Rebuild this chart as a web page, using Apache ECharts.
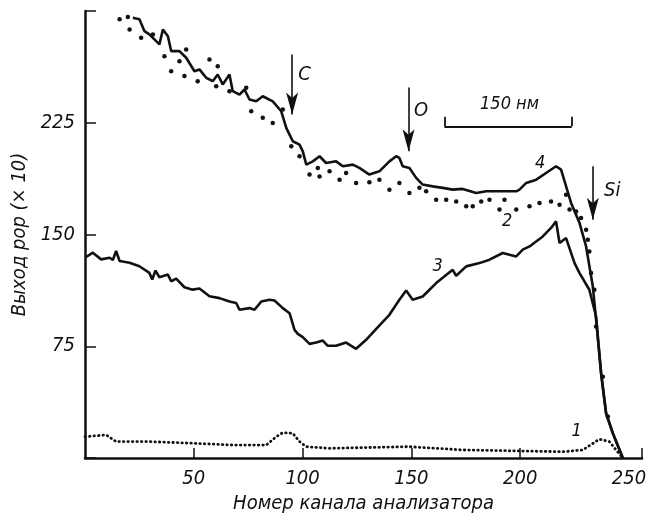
<!DOCTYPE html>
<html>
<head>
<meta charset="utf-8">
<script src="https://cdn.jsdelivr.net/npm/echarts@6/dist/echarts.min.js"></script>
<style>
html, body { margin: 0; background: #fff; }
#chart { width: 656px; height: 514px; }
</style>
</head>
<body>
<div id="chart"></div>
<script>
// номер канала / выход РОР (x10), читано с рисунка
var curve4Ch = [22.0, 25.0, 27.3, 29.6, 32.7, 34.2, 35.8, 38.1, 39.6, 43.4, 46.5, 50.3, 52.6, 55.7, 58.7, 61.0, 63.3, 66.4, 67.9, 71.0,
    73.3, 75.6, 78.7, 81.7, 86.3, 90.2, 92.5, 95.5, 98.6, 100.1, 101.7, 104.7, 107.8, 110.8, 115.4, 118.5, 123.1, 126.1, 130.7, 135.3,
    139.9, 143.0, 144.5, 146.0, 149.1, 152.2, 155.2, 159.8, 164.4, 169.0, 173.6, 179.8, 184.4, 190.5, 198.2, 199.7, 202.8, 207.4, 211.9, 216.5,
    218.8, 223.4, 227.3, 230.3, 233.4, 234.9, 237.2, 239.5, 242.6, 247.2];
var curve4Val = [295.5, 294.4, 286.5, 284.3, 279.8, 277.6, 287.6, 283.1, 273.1, 273.1, 268.6, 259.6, 260.8, 255.2, 252.9, 257.4, 250.7, 257.4, 246.2, 243.9,
    247.3, 240.6, 239.4, 242.8, 239.4, 232.7, 221.6, 212.6, 210.3, 205.8, 196.9, 199.1, 202.5, 198.0, 199.1, 195.8, 196.9, 194.7, 190.2, 192.4,
    199.1, 202.5, 201.4, 195.8, 194.7, 188.0, 183.5, 182.3, 181.3, 180.1, 180.6, 177.9, 179.0, 179.0, 179.0, 180.1, 184.6, 186.8, 191.3, 195.8,
    193.5, 171.2, 157.7, 142.0, 115.1, 92.7, 56.9, 30.0, 16.6, 0];

var curve3Ch = [0, 3.6, 7.4, 11.3, 12.8, 14.3, 15.9, 20.5, 25.0, 29.6, 30.9, 32.4, 34.2, 38.1, 39.6, 41.9, 45.7, 49.5, 52.6, 57.2,
    61.8, 66.4, 69.5, 71.0, 75.6, 77.9, 81.0, 84.8, 87.1, 90.9, 94.0, 96.3, 97.8, 100.1, 103.2, 106.3, 109.3, 111.6, 115.4, 120.0,
    124.6, 129.2, 134.6, 139.9, 144.5, 147.6, 150.6, 155.2, 161.4, 169.0, 170.6, 175.2, 181.3, 185.9, 192.0, 198.2, 201.2, 204.3, 210.4, 214.2,
    216.5, 218.1, 221.1, 225.0, 227.3, 231.8, 234.9, 237.2, 239.5, 242.6, 247.2];
var curve3Val = [134.4, 137.8, 133.3, 134.4, 132.9, 138.9, 132.2, 131.1, 128.7, 124.2, 119.8, 125.8, 121.3, 123.1, 118.6, 120.4, 114.6, 113.0, 113.7, 108.5,
    107.3, 105.0, 104.0, 99.5, 100.6, 99.5, 105.0, 106.2, 105.7, 100.6, 97.2, 86.0, 83.3, 81.1, 76.6, 77.5, 78.8, 75.3, 75.3, 77.5,
    73.3, 79.3, 87.8, 96.1, 106.2, 112.4, 106.2, 108.4, 117.4, 126.3, 122.3, 128.6, 130.8, 133.1, 137.6, 135.3, 139.8, 142.0, 148.7, 154.4,
    158.8, 144.3, 147.6, 130.8, 124.1, 112.9, 95.0, 56.9, 30.0, 16.6, 0];

var curve2Ch = [15.9, 19.7, 20.5, 25.8, 31.2, 36.5, 39.6, 43.4, 45.7, 46.5, 51.8, 57.2, 61.0, 60.3, 66.4, 74.1, 76.4, 81.7, 86.3, 90.9,
    94.8, 98.6, 103.2, 107.0, 107.8, 112.4, 117.0, 120.0, 124.6, 130.7, 135.3, 139.9, 144.5, 149.1, 153.7, 156.8, 161.4, 166.0, 170.6, 175.2,
    178.2, 182.1, 185.9, 190.5, 192.8, 198.2, 204.3, 208.9, 214.2, 218.1, 221.1, 222.7, 225.7, 228.0, 230.3, 231.1, 231.8, 232.6, 234.1, 234.9,
    238.0, 240.3];
var curve2Val = [294.4, 295.9, 287.6, 282.1, 284.3, 269.7, 259.6, 266.3, 256.3, 274.2, 252.9, 267.5, 263.0, 249.5, 246.2, 248.5, 232.7, 228.3, 224.9, 233.9,
    209.2, 202.5, 190.2, 194.7, 189.0, 192.4, 186.8, 191.3, 184.6, 185.0, 186.8, 180.1, 184.6, 177.9, 181.3, 179.0, 173.4, 173.4, 172.2, 168.9,
    168.9, 172.2, 173.4, 166.7, 173.4, 166.7, 168.9, 171.2, 172.2, 170.0, 176.7, 166.7, 165.5, 161.1, 153.2, 146.5, 138.6, 124.1, 112.9, 88.2,
    54.6, 27.8];

var curve1Ch = [0, 9.7, 14.3, 29.6, 49.5, 67.9, 83.3, 87.9, 90.9, 95.5, 98.6, 101.7, 112.4, 149.1, 173.6, 219.6, 228.8, 236.4, 241.0, 244.1, 247.2];
var curve1Val = [14.3, 15.5, 11.0, 11.0, 9.9, 8.7, 8.7, 14.3, 17.0, 16.6, 11.0, 7.6, 6.5, 7.6, 5.4, 4.2, 5.4, 12.6, 11.0, 5.4, 0];

var xTicks = [50, 100, 150, 200, 256];
var xLabels = [50, 100, 150, 200, 250];

// стрелки и подписи (в координатах графика)
var arrows = [
    { name: 'C', x: 95.2, from: 270.8, to: 230.5, tx: 100.9, ty: 257.4 },
    { name: 'O', x: 148.7, from: 248.7, to: 205.8, tx: 154.5, ty: 232.7 },
    { name: 'Si', x: 233.4, from: 195.8, to: 159.9, tx: 242.3, ty: 179.0 }
];
var curveNames = [
    { name: '4', x: 209.2, y: 198.0 },
    { name: '2', x: 194.0, y: 158.8 },
    { name: '3', x: 162.1, y: 128.6 },
    { name: '1', x: 226.0, y: 17.7 }
];
var scaleBar = { x0: 165.2, x1: 223.7, y: 222.6, yEnd: 229.0, label: '150 нм', tx: 195.1, ty: 237.2 };

function zip(a, b) {
    return a.map(function (v, i) { return [v, b[i]]; });
}

var ink = '#111';
var font = '"DejaVu Sans Condensed", "DejaVu Sans", sans-serif';

var chart = echarts.init(document.getElementById('chart'), null, { renderer: 'canvas' });

var arrowLines = arrows.map(function (a) {
    return [{ coord: [a.x, a.from] }, { coord: [a.x, a.to] }];
});
var barLines = [
    [{ coord: [scaleBar.x0, scaleBar.y] }, { coord: [scaleBar.x1, scaleBar.y] }],
    [{ coord: [scaleBar.x0, scaleBar.y] }, { coord: [scaleBar.x0, scaleBar.yEnd] }],
    [{ coord: [scaleBar.x1, scaleBar.y] }, { coord: [scaleBar.x1, scaleBar.yEnd] }]
];
var textPoints = arrows.map(function (a) {
    return { name: a.name, coord: [a.tx, a.ty], label: { fontSize: 20 } };
}).concat(curveNames.map(function (c) {
    return { name: c.name, coord: [c.x, c.y], label: { fontSize: 18 } };
})).concat([{ name: scaleBar.label, coord: [scaleBar.tx, scaleBar.ty], label: { fontSize: 18 } }]);

var option = {
    animation: false,
    backgroundColor: '#fff',
    grid: { left: 85, right: 14, top: 11, bottom: 56, containLabel: false, outerBoundsMode: 'none' },
    xAxis: {
        type: 'value',
        min: 0,
        max: 256,
        interval: 50,
        name: 'Номер канала анализатора',
        nameLocation: 'middle',
        nameGap: 28,
        nameTextStyle: { fontSize: 20, fontStyle: 'italic', color: ink, fontFamily: font },
        axisLine: { lineStyle: { color: ink, width: 2.5 } },
        axisTick: { inside: true, length: 10, customValues: xTicks, lineStyle: { color: ink, width: 1.5 } },
        axisLabel: { customValues: xLabels, margin: 11, fontSize: 20, fontStyle: 'italic', color: ink, fontFamily: font },
        splitLine: { show: false }
    },
    yAxis: {
        type: 'value',
        min: 0,
        max: 300,
        interval: 75,
        name: 'Выход рор (× 10)',
        nameLocation: 'middle',
        nameGap: 48,
        nameRotate: 90,
        nameTextStyle: { fontSize: 20, fontStyle: 'italic', color: ink, fontFamily: font },
        axisLine: { lineStyle: { color: ink, width: 2.5 } },
        axisTick: { inside: true, length: 11, lineStyle: { color: ink, width: 1.5 } },
        axisLabel: {
            margin: 10, fontSize: 20, fontStyle: 'italic', color: ink, fontFamily: font,
            formatter: function (v) { return (v === 0 || v === 300) ? '' : v; }
        },
        splitLine: { show: false }
    },
    series: [
        {
            name: '4',
            type: 'line',
            data: zip(curve4Ch, curve4Val),
            showSymbol: false,
            lineStyle: { color: ink, width: 2.6 },
            markLine: {
                silent: true,
                symbol: ['none', 'arrow'],
                symbolSize: [9, 22],
                label: { show: false },
                lineStyle: { color: ink, width: 1.6, type: 'solid' },
                data: arrowLines
            },
            markPoint: {
                silent: true,
                symbol: 'circle',
                symbolSize: 0,
                label: {
                    show: true, position: 'inside', color: ink, fontStyle: 'italic', fontFamily: font,
                    formatter: function (p) { return p.name; }
                },
                data: textPoints
            }
        },
        {
            name: '3',
            type: 'line',
            data: zip(curve3Ch, curve3Val),
            showSymbol: false,
            lineStyle: { color: ink, width: 2.6 },
            markLine: {
                silent: true,
                symbol: ['none', 'none'],
                label: { show: false },
                lineStyle: { color: ink, width: 1.8, type: 'solid' },
                data: barLines
            }
        },
        {
            name: '2',
            type: 'scatter',
            data: zip(curve2Ch, curve2Val),
            symbolSize: 4.5,
            itemStyle: { color: ink, opacity: 1 }
        },
        {
            name: '1',
            type: 'line',
            data: zip(curve1Ch, curve1Val),
            showSymbol: false,
            lineStyle: { color: ink, width: 2.8, type: [0.5, 4], cap: 'round' }
        }
    ]
};

chart.setOption(option);
</script>
</body>
</html>
